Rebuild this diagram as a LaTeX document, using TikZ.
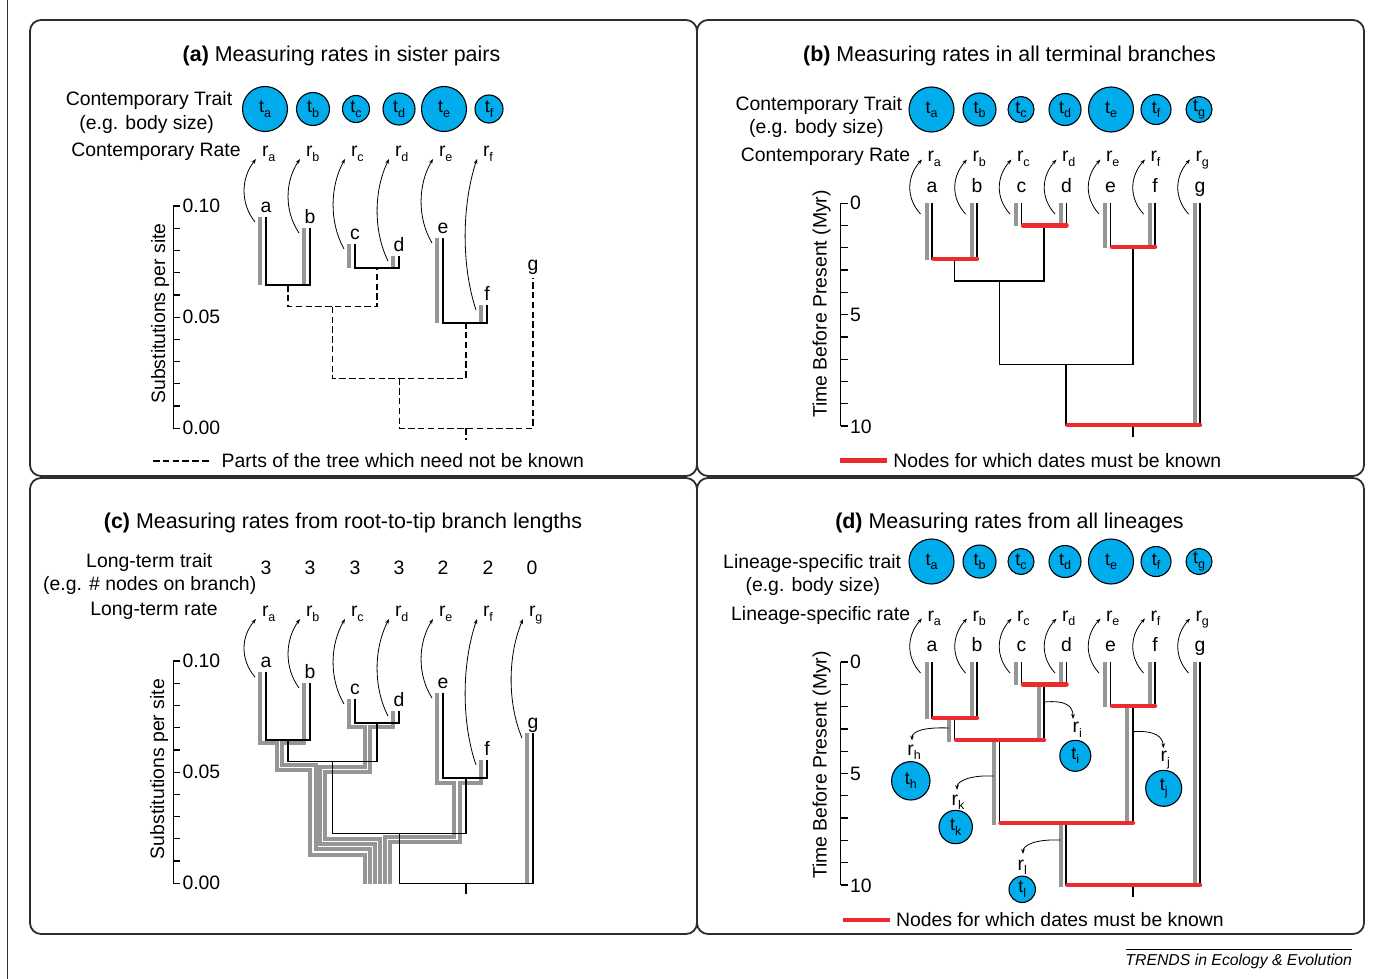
\documentclass[tikz,border=0pt]{standalone}
\usepackage{fontspec}
\setmainfont{Liberation Sans}
\usetikzlibrary{arrows.meta}
\definecolor{tcyan}{RGB}{0,172,235}
\definecolor{tgray}{RGB}{150,150,150}
\definecolor{tred}{RGB}{237,43,46}
\definecolor{frm}{RGB}{45,45,45}
\newcommand{\sbx}[1]{\raisebox{-4.5pt}{\fontsize{12.5}{12.5}\selectfont #1}}
\newcommand{\mfs}{\fontsize{19.4}{23}\selectfont}
\newcommand{\tfs}{\fontsize{21.4}{25}\selectfont}
\begin{document}
\begin{tikzpicture}[x=1pt,y=-1pt,
  every node/.style={inner sep=0pt, outer sep=0pt},
  txt/.style={font=\mfs, anchor=base},
  ttl/.style={font=\tfs, anchor=base},
  panelbox/.style={draw=frm, line width=1.8, rounded corners=11},
  tcirc/.style={circle, draw=black, line width=1.1, fill=tcyan, font=\fontsize{18}{18}\selectfont},
  gbar/.style={draw=tgray, line width=4},
  blk/.style={draw=black, line width=1.2},
  dsh/.style={draw=black, line width=1.2, dash pattern=on 6.5pt off 3.3pt},
  rbar/.style={draw=tred, line width=4.5, line cap=round},
  rarr/.style={draw=black, line width=0.8, -{Stealth[length=5pt,width=3.6pt]}},
  axisline/.style={draw=black, line width=1.3},
]
\useasboundingbox (0,0) rectangle (1386,979);
\draw[frm, line width=1] (7.5,0) -- (7.5,979);

% panels
\draw[panelbox] (30,20) rectangle (697,476);
\draw[panelbox] (697,20) rectangle (1364,476);
\draw[panelbox] (30,478) rectangle (697,934);
\draw[panelbox] (697,478) rectangle (1364,934);

% titles
\node[ttl] (tA) at (341.5,61.5) {\textbf{(a)} Measuring rates in sister pairs};
\node[ttl] (tB) at (1009.5,62) {\textbf{(b)} Measuring rates in all terminal branches};
\node[ttl] (tC) at (343,528.5) {\textbf{(c)} Measuring rates from root-to-tip branch lengths};
\node[ttl] (tD) at (1009.5,528.3) {\textbf{(d)} Measuring rates from all lineages};

% ================= Panel (a) =================
\node[txt] (a-l1) at (149,106) {Contemporary Trait};
\node[txt] (a-l2) at (146.7,130) {(e.g. body size)};
\node[txt] (a-l3) at (156,156.7) {Contemporary Rate};
\foreach \n/\x/\r in {a/265/22.5, b/313/16.5, c/356/13.5, d/399/16, e/444/22.5, f/489/14}
  \node[tcirc, minimum size={2*\r}] (ca-\n) at (\x,109) {t\sbx{\n}};
% axis
\draw[axisline] (173.3,206) -- (173.3,428.3);
\foreach \k in {0,...,10} \draw[axisline] (173.3,{206+\k*22.23}) -- ++(7,0);
\node[font=\mfs, anchor=west] (ya1) at (182.5,206) {0.10};
\node[font=\mfs, anchor=west] (ya2) at (182.5,317.2) {0.05};
\node[font=\mfs, anchor=west] (ya3) at (182.5,428.3) {0.00};
\node[font=\mfs, rotate=90] (yal) at (160,313.5) {Substitutions per site};
% tips
\foreach \n/\bx/\tp/\nd in {a/266/217/285, b/310/228/285, c/355/244/268, d/399/256/268, e/443/238/323, f/487/305/323} {
  \draw[gbar] ({\bx-6},\tp) -- ({\bx-6},\nd);
  \node[txt] (la-\n) at (\bx,{\tp-5}) {\n};
  \node[txt, anchor=base west] (ra-\n) at ({\bx-4},157) {r\sbx{\n}};
  \coordinate (sa-\n) at ({\bx-11},{\tp+5});
  \coordinate (ea-\n) at ({\bx-10},159);
  \pgfmathsetmacro\hh{0.3*(\tp+5-159)}
  \draw[rarr] (sa-\n) .. controls +(-15,-\hh) and +(-15,\hh) .. (ea-\n);
}
\node[txt] (la-g) at (533,270) {g};
\draw[blk] (266,217) |- (310,285) -- (310,228);
\draw[blk] (355,244) |- (399,268) -- (399,256);
\draw[blk] (443,238) |- (487,323) -- (487,305);
\draw[dsh] (288,285) |- (377,306.7) -- (377,268);
\draw[dsh] (332.5,306.7) |- (466,378.3) -- (466,323);
\draw[dsh] (399.3,378.3) |- (533,428.3) -- (533,278);
\draw[dsh] (466,428.3) -- (466,440);
% legend
\draw[dsh] (153,461) -- (208.5,461);
\node[txt, anchor=base west] (lega) at (221.7,467) {Parts of the tree which need not be known};

% ================= Panel (b) =================
\node[txt] (b-l1) at (818.8,110.7) {Contemporary Trait};
\node[txt] (b-l2) at (816.3,134) {(e.g. body size)};
\node[txt] (b-l3) at (825.5,161.7) {Contemporary Rate};
\foreach \n/\x/\r in {a/931.5/22.5, b/979.5/16.5, c/1021/13, d/1065/16, e/1111/22.5, f/1156/15, g/1199/13}
  \node[tcirc, minimum size={2*\r}] (cb-\n) at (\x,109.5) {t\sbx{\n}};
\draw[axisline] (840.5,203.3) -- (840.5,426);
\foreach \k in {0,...,10} \draw[axisline] (840.5,{203.3+\k*22.27}) -- ++(7,0);
\node[font=\mfs, anchor=west] (yb1) at (850,203.3) {0};
\node[font=\mfs, anchor=west] (yb2) at (850,314.7) {5};
\node[font=\mfs, anchor=west] (yb3) at (850,426.5) {10};
\node[font=\mfs, rotate=90] (ybl) at (821.7,304) {Time Before Present (Myr)};
\foreach \n/\bx/\nd in {a/932/259.5, b/977/259.5, c/1021.5/226, d/1066.5/226, e/1110.5/248, f/1155/248, g/1200/425} {
  \draw[gbar] ({\bx-5.5},203) -- ({\bx-5.5},\nd);
  \node[txt] (lb-\n) at (\bx,192) {\n};
  \node[txt, anchor=base west] (rb-\n) at ({\bx-4.5},161.7) {r\sbx{\n}};
  \coordinate (sb-\n) at ({\bx-11.5},214);
  \coordinate (eb-\n) at ({\bx-10},159.5);
  \draw[rarr] (sb-\n) .. controls +(-15,-16.5) and +(-15,16.5) .. (eb-\n);
}
\draw[blk] (932,203) |- (977,259) -- (977,203);
\draw[blk] (1021.5,203) |- (1066.5,225.5) -- (1066.5,203);
\draw[blk] (1110.5,203) |- (1155,247) -- (1155,203);
\draw[blk] (1200,203) -- (1200,425);
\draw[blk] (954.5,259) |- (1044,281) -- (1044,225.5);
\draw[blk] (999.3,281) |- (1133,364.3) -- (1133,247);
\draw[blk] (1066,364.3) |- (1200,425);
\draw[blk] (1133,425) -- (1133,436.5);
\draw[rbar] (933.5,259) -- (977,259);
\draw[rbar] (1023,225.5) -- (1066.5,225.5);
\draw[rbar] (1112,247) -- (1155,247);
\draw[rbar] (1067.5,425) -- (1200,425);
\draw[rbar, line cap=butt] (840,460.5) -- (887.3,460.5);
\node[txt, anchor=base west] (legb) at (893.3,467) {Nodes for which dates must be known};

% ================= Panel (c) =================
\node[txt] (c-l1) at (149.3,567.3) {Long-term trait};
\node[txt] (c-l2) at (149.7,590) {(e.g. \# nodes on branch)};
\node[txt] (c-l3) at (154,615) {Long-term rate};
\foreach \n/\x/\v in {a/266/3, b/310/3, c/355/3, d/399/3, e/443/2, f/488/2, g/532/0}
  \node[txt] (nc-\n) at (\x,574) {\v};
\draw[axisline] (173.3,661) -- (173.3,883.3);
\foreach \k in {0,...,10} \draw[axisline] (173.3,{661+\k*22.23}) -- ++(7,0);
\node[font=\mfs, anchor=west] (yc1) at (182.5,661) {0.10};
\node[font=\mfs, anchor=west] (yc2) at (182.5,772.2) {0.05};
\node[font=\mfs, anchor=west] (yc3) at (182.5,883.3) {0.00};
\node[font=\mfs, rotate=90] (ycl) at (159,769) {Substitutions per site};
% gray root-to-tip paths
\draw[gbar] (260,672) |- (276.7,743) |- (310,770) |- (365,855) -- (365,883.5);
\draw[gbar] (304,683) |- (281.7,743) |- (316,765) |- (370,849.3) -- (370,883.5);
\draw[gbar] (349,699) |- (365,727.3) |- (320,766.7) |- (375,844) -- (375,883.5);
\draw[gbar] (393,711) |- (370,727.3) |- (325,771.7) |- (380,839.3) -- (380,883.5);
\draw[gbar] (437,693) |- (454,783.3) |- (385,836.7) -- (385,883.5);
\draw[gbar] (481,760) |- (460,783.3) |- (390,841.7) -- (390,883.5);
\draw[gbar] (527,733) -- (527,883.5);
\foreach \n/\bx/\tp in {a/266/672, b/310/683, c/355/699, d/399/711, e/443/693, f/487/760, g/533/733} {
  \node[txt] (lc-\n) at (\bx,{\tp-5}) {\n};
  \node[txt, anchor=base west] (rc-\n) at ({\bx-4},616.7) {r\sbx{\n}};
  \coordinate (sc-\n) at ({\bx-11},{\tp+5});
  \coordinate (ec-\n) at ({\bx-10},619);
  \pgfmathsetmacro\hh{0.3*(\tp+5-619)}
  \draw[rarr] (sc-\n) .. controls +(-15,-\hh) and +(-15,\hh) .. (ec-\n);
}
\draw[blk] (266,672) |- (310,740) -- (310,683);
\draw[blk] (355,699) |- (399,723) -- (399,711);
\draw[blk] (443,693) |- (487,778) -- (487,760);
\draw[blk] (288,740) |- (377,761.7) -- (377,723);
\draw[blk] (332.5,761.7) |- (466,833.3) -- (466,778);
\draw[blk] (399.3,833.3) |- (533,883.3) -- (533,733);
\draw[blk] (466,883.3) -- (466,894);

% ================= Panel (d) =================
\node[txt] (d-l1) at (812.2,568.3) {Lineage-specific trait};
\node[txt] (d-l2) at (812.8,591) {(e.g. body size)};
\node[txt] (d-l3) at (820.7,620) {Lineage-specific rate};
\foreach \n/\x/\r in {a/931.5/22.5, b/979.5/16.5, c/1021/13, d/1065/16, e/1111/22.5, f/1156/15, g/1199/13}
  \node[tcirc, minimum size={2*\r}] (cd-\n) at (\x,561.5) {t\sbx{\n}};
\draw[axisline] (840.5,662) -- (840.5,885);
\foreach \k in {0,...,10} \draw[axisline] (840.5,{662+\k*22.3}) -- ++(7,0);
\node[font=\mfs, anchor=west] (yd1) at (850,662) {0};
\node[font=\mfs, anchor=west] (yd2) at (850,773.5) {5};
\node[font=\mfs, anchor=west] (yd3) at (850,885.5) {10};
\node[font=\mfs, rotate=90] (ydl) at (821.7,765) {Time Before Present (Myr)};
\foreach \n/\bx/\nd in {a/932/718.5, b/977/718.5, c/1021.5/685, d/1066.5/685, e/1110.5/707, f/1155/707, g/1200/885} {
  \draw[gbar] ({\bx-5.5},662) -- ({\bx-5.5},\nd);
  \node[txt] (ld-\n) at (\bx,651.5) {\n};
  \node[txt, anchor=base west] (rd-\n) at ({\bx-4.5},621) {r\sbx{\n}};
  \coordinate (sd-\n) at ({\bx-11.5},673);
  \coordinate (ed-\n) at ({\bx-10},618.5);
  \draw[rarr] (sd-\n) .. controls +(-15,-16.5) and +(-15,16.5) .. (ed-\n);
}
% internal gray bars
\draw[gbar] (949,718) -- (949,742);
\draw[gbar] (1038.5,684) -- (1038.5,742);
\draw[gbar] (993.5,740) -- (993.5,825);
\draw[gbar] (1127,706) -- (1127,825);
\draw[gbar] (1060.5,823) -- (1060.5,887);
% black tree
\draw[blk] (932,662) |- (977,718) -- (977,662);
\draw[blk] (1021.5,662) |- (1066.5,684.5) -- (1066.5,662);
\draw[blk] (1110.5,662) |- (1155,706) -- (1155,662);
\draw[blk] (1200,662) -- (1200,885);
\draw[blk] (954.5,718) |- (1044,740) -- (1044,684.5);
\draw[blk] (999.3,740) |- (1133,823) -- (1133,706);
\draw[blk] (1066,823) |- (1200,885);
\draw[blk] (1133,885) -- (1133,897);
% red
\draw[rbar] (933.5,718) -- (977,718);
\draw[rbar] (1023,684.5) -- (1066.5,684.5);
\draw[rbar] (1112,706) -- (1155,706);
\draw[rbar] (956,740) -- (1044,740);
\draw[rbar] (1000.5,823) -- (1133,823);
\draw[rbar] (1067.5,885) -- (1200,885);
% ancestral lineages
\coordinate (sh) at (949,728);   \coordinate (eh) at (912,740.5);
\coordinate (si) at (1044,702);  \coordinate (ei) at (1073,719);
\coordinate (sj) at (1133,731.7);\coordinate (ej) at (1163.3,748.3);
\coordinate (sk) at (993.5,776); \coordinate (ek) at (957,790);
\coordinate (sl) at (1060.5,840);\coordinate (el) at (1023,854);
\draw[rarr] (sh) .. controls (925,727) and (912,731) .. (eh);
\draw[rarr] (si) .. controls (1066,700) and (1073,706) .. (ei);
\draw[rarr] (sj) .. controls (1155,730) and (1163,737) .. (ej);
\draw[rarr] (sk) .. controls (970,775) and (957,781) .. (ek);
\draw[rarr] (sl) .. controls (1036,839) and (1023,845) .. (el);
\node[txt, anchor=base west] (rh) at (907.3,755) {r\sbx{h}};
\node[txt, anchor=base west] (ri) at (1072.7,732.7) {r\sbx{i}};
\node[txt, anchor=base west] (rj) at (1160.7,761.7) {r\sbx{j}};
\node[txt, anchor=base west] (rk) at (951.7,805) {r\sbx{k}};
\node[txt, anchor=base west] (rl) at (1017.7,870) {r\sbx{l}};
\node[tcirc, minimum size=38.4] (th) at (910.8,780.8) {t\sbx{h}};
\node[tcirc, minimum size=31] (ti) at (1075.3,755.8) {t\sbx{i}};
\node[tcirc, minimum size=36] (tj) at (1163.7,788.3) {t\sbx{j}};
\node[tcirc, minimum size=33.4] (tk) at (955.7,827) {t\sbx{k}};
\node[tcirc, minimum size=26.4] (tl) at (1022.2,889.3) {t\sbx{l}};
\draw[rbar, line cap=butt] (843,920) -- (890,920);
\node[txt, anchor=base west] (legd) at (896,926.5) {Nodes for which dates must be known};

% footer
\draw[line width=0.8] (1126,949.3) -- (1352,949.3);
\node[font=\fontsize{15.8}{18}\selectfont\itshape, anchor=base east] (foot) at (1352,965) {TRENDS in Ecology \& Evolution};
\end{tikzpicture}
\end{document}
